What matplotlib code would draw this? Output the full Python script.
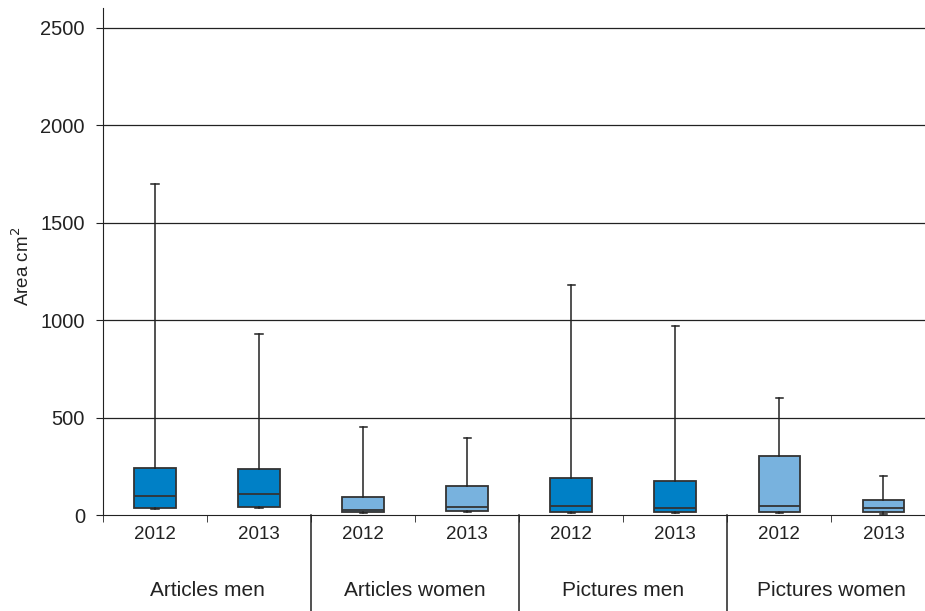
import matplotlib
matplotlib.use("Agg")
import matplotlib.pyplot as plt
import numpy as np

plt.rcParams['font.family'] = ['Liberation Sans', 'DejaVu Sans']

groups = ['Articles men', 'Articles women', 'Pictures men', 'Pictures women']
years = ['2012', '2013']

# box stats per box, in order of the x axis
whislo = [30, 35, 12, 15, 10, 10, 10, 5]
q1 = [36, 40, 16, 19, 14, 14, 14, 14]
med = [97, 109, 25, 40, 48, 38, 45, 36]
q3 = [240, 235, 94, 150, 190, 175, 303, 75]
whishi = [1700, 930, 450, 395, 1180, 970, 600, 200]

dark = '#0080c6'
light = '#78b2de'
colors = [dark, dark, light, light, dark, dark, light, light]

stats = []
for i in range(len(med)):
    stats.append(dict(whislo=whislo[i], q1=q1[i], med=med[i], q3=q3[i], whishi=whishi[i], fliers=[]))

fig = plt.figure(figsize=(9.25, 6.11), dpi=100)
ax = fig.add_axes([0.1114, 0.1571, 0.8886, 0.8298])

pos = np.arange(len(med))
bp = ax.bxp(stats, positions=pos, widths=0.4, patch_artist=True, capwidths=0.07,
            boxprops=dict(edgecolor='#333333', linewidth=1.3),
            medianprops=dict(color='#333333', linewidth=1.3),
            whiskerprops=dict(color='#222222', linewidth=1.1),
            capprops=dict(color='#222222', linewidth=1.1), zorder=3)
for patch, c in zip(bp['boxes'], colors):
    patch.set_facecolor(c)

ax.set_ylim(0, 2600)
ax.set_xlim(-0.5, 7.4)
ax.set_yticks([0, 500, 1000, 1500, 2000, 2500])
for yv in [500, 1000, 1500, 2000, 2500]:
    ax.axhline(yv, color='#222222', linewidth=0.9, zorder=1)

ax.spines['top'].set_visible(False)
ax.spines['right'].set_visible(False)
ax.spines['left'].set_color('#222222')
ax.spines['bottom'].set_color('#222222')

ax.set_xticks(pos)
ax.set_xticklabels(years * len(groups))
ax.set_xticks(np.arange(-0.5, 7.5, 1.0), minor=True)
ax.tick_params(axis='x', which='major', length=0, pad=8, labelsize=13.5, colors='#222222')
ax.tick_params(axis='x', which='minor', length=5, color='#222222')
ax.tick_params(axis='y', length=5, pad=8, labelsize=14.5, colors='#222222')

ax.set_ylabel('Area cm$^2$', fontsize=13.5, color='#222222')
ax.yaxis.set_label_coords(-0.085, 0.49)

trans = ax.get_xaxis_transform()
for k, g in enumerate(groups):
    ax.text(2 * k + 0.5, -0.148, g, transform=trans, ha='center', va='center',
            fontsize=15, color='#222222')
for xs in [1.5, 3.5, 5.5]:
    ax.plot([xs, xs], [0, -0.2], transform=trans, color='#222222', linewidth=1.1, clip_on=False)

fig.savefig('out.png', dpi=100)
